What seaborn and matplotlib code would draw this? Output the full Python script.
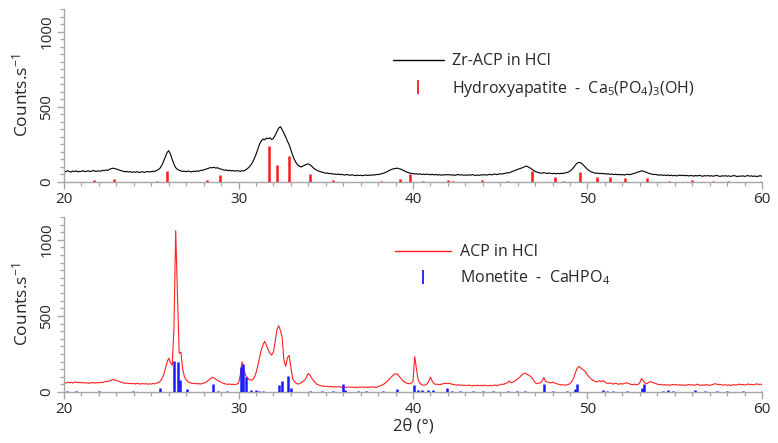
import numpy as np
import pandas as pd
import matplotlib
matplotlib.use("Agg")
import matplotlib.pyplot as plt
from matplotlib.lines import Line2D
from matplotlib.ticker import MultipleLocator
import seaborn as sns

# 2-theta sampling grid (degrees), 0.1 deg step
two_theta = np.round(np.arange(200, 601) / 10, 1)

# Zr-ACP in HCl, counts per second
zr_acp = [
    72, 68, 75, 70, 66, 73, 69, 74, 67, 71,
    70, 76, 68, 72, 74, 69, 73, 77, 70, 72,
    74, 71, 78, 75, 80, 77, 84, 88, 92, 89,
    86, 82, 78, 74, 71, 68, 70, 66, 69, 64,
    67, 65, 69, 63, 66, 68, 64, 67, 70, 66,
    69, 72, 70, 76, 82, 92, 110, 135, 165, 195,
    208, 185, 150, 118, 95, 84, 78, 74, 70, 72,
    68, 73, 70, 67, 72, 69, 74, 71, 76, 78,
    80, 84, 88, 92, 96, 94, 98, 92, 95, 88,
    86, 82, 78, 80, 75, 78, 73, 76, 72, 75,
    74, 70, 76, 73, 80, 88, 98, 112, 130, 155,
    182, 215, 250, 272, 285, 280, 292, 288, 294, 282,
    290, 310, 335, 358, 368, 348, 325, 300, 272, 248,
    215, 178, 150, 128, 112, 104, 100, 106, 112, 118,
    120, 114, 104, 92, 84, 78, 72, 68, 65, 62,
    58, 60, 55, 57, 52, 54, 50, 53, 49, 51,
    48, 46, 50, 47, 44, 48, 45, 42, 46, 43,
    45, 42, 44, 47, 43, 46, 44, 48, 46, 50,
    49, 52, 55, 58, 62, 68, 74, 80, 85, 88,
    90, 92, 88, 85, 80, 74, 68, 64, 60, 57,
    56, 53, 55, 51, 54, 50, 52, 49, 53, 50,
    48, 51, 47, 50, 46, 49, 45, 48, 46, 50,
    47, 49, 45, 48, 44, 47, 50, 46, 48, 45,
    47, 44, 48, 45, 49, 46, 43, 47, 44, 48,
    46, 49, 45, 48, 51, 47, 50, 53, 49, 52,
    55, 52, 56, 58, 62, 60, 66, 70, 75, 80,
    84, 88, 92, 96, 102, 106, 100, 94, 86, 78,
    70, 66, 62, 60, 58, 62, 59, 56, 60, 57,
    55, 58, 54, 57, 55, 58, 56, 60, 62, 66,
    72, 82, 96, 112, 125, 130, 128, 120, 108, 96,
    84, 75, 68, 64, 60, 57, 60, 55, 58, 54,
    56, 52, 55, 50, 53, 49, 52, 48, 51, 47,
    50, 46, 49, 52, 48, 51, 55, 58, 62, 66,
    70, 74, 72, 68, 63, 58, 55, 52, 49, 51,
    47, 45, 48, 44, 46, 43, 47, 42, 45, 41,
    44, 40, 43, 46, 42, 45, 41, 44, 40, 43,
    42, 39, 43, 40, 44, 41, 38, 42, 40, 43,
    39, 42, 38, 41, 44, 40, 37, 41, 39, 42,
    38, 41, 37, 40, 43, 39, 36, 40, 38, 41,
    37, 40, 43, 38, 41, 37, 40, 36, 39, 42,
    38,
]

# ACP in HCl, counts per second
acp = [
    62, 58, 65, 60, 64, 59, 63, 66, 61, 64,
    60, 63, 58, 62, 57, 61, 59, 63, 58, 62,
    60, 64, 62, 66, 70, 68, 74, 78, 82, 80,
    76, 72, 68, 64, 60, 57, 59, 55, 58, 54,
    56, 53, 57, 54, 52, 56, 53, 55, 51, 54,
    52, 56, 53, 58, 62, 70, 85, 110, 150, 195,
    222, 195, 175, 420, 1060, 640, 255, 262, 150, 100,
    80, 68, 62, 58, 55, 57, 53, 56, 52, 55,
    58, 62, 70, 80, 90, 96, 92, 84, 76, 70,
    64, 58, 55, 52, 50, 53, 49, 51, 48, 52,
    58, 110, 198, 150, 112, 95, 82, 78, 80, 95,
    125, 170, 225, 275, 310, 333, 305, 278, 255, 242,
    262, 330, 410, 436, 405, 360, 210, 168, 225, 240,
    165, 89, 70, 58, 52, 55, 62, 70, 78, 100,
    122, 110, 90, 75, 62, 50, 46, 42, 40, 38,
    36, 38, 34, 37, 33, 35, 32, 36, 34, 31,
    35, 33, 30, 34, 31, 33, 30, 32, 29, 33,
    31, 34, 30, 33, 29, 32, 35, 31, 34, 30,
    36, 40, 44, 50, 58, 68, 80, 92, 105, 115,
    120, 118, 105, 90, 76, 66, 60, 56, 54, 58,
    70, 233, 150, 76, 58, 48, 44, 46, 52, 70,
    98, 72, 55, 50, 52, 48, 50, 54, 56, 58,
    55, 58, 52, 50, 47, 45, 48, 44, 46, 43,
    45, 42, 46, 43, 40, 44, 41, 45, 42, 44,
    41, 45, 42, 40, 44, 41, 43, 46, 42, 45,
    48, 52, 50, 56, 60, 72, 62, 64, 70, 78,
    86, 95, 108, 118, 124, 120, 112, 106, 95, 80,
    62, 55, 58, 60, 72, 95, 70, 66, 62, 60,
    65, 60, 56, 52, 50, 46, 48, 44, 47, 50,
    55, 68, 90, 125, 155, 168, 160, 150, 142, 130,
    112, 98, 86, 78, 72, 66, 70, 74, 68, 76,
    65, 58, 56, 60, 55, 52, 58, 54, 50, 56,
    52, 56, 60, 58, 54, 50, 48, 52, 47, 50,
    62, 88, 75, 58, 55, 62, 68, 64, 60, 56,
    52, 48, 50, 46, 49, 45, 48, 44, 47, 50,
    46, 49, 45, 48, 44, 47, 43, 46, 50, 45,
    48, 44, 47, 52, 46, 43, 47, 45, 49, 46,
    44, 47, 50, 55, 52, 48, 51, 47, 45, 48,
    44, 47, 43, 46, 49, 45, 48, 52, 47, 50,
    46, 49, 53, 48, 51, 47, 50, 54, 49, 52,
    48,
]

# Hydroxyapatite reference pattern: positions (deg) and stick heights
hap_pos = [21.74, 22.87, 25.31, 25.88, 28.18, 28.92, 31.77, 32.22, 32.90,
           34.10, 35.43, 38.17, 39.26, 39.83, 40.59, 42.03, 42.30, 43.97,
           45.37, 46.80, 48.14, 48.65, 49.57, 50.56, 51.29, 52.17, 53.39,
           54.65, 55.97, 57.21, 58.07, 59.98]
hap_int = [13, 22, 8, 75, 13, 44, 238, 115, 171,
           53, 13, 8, 20, 55, 8, 16, 7, 11,
           8, 71, 33, 8, 64, 36, 31, 27, 27,
           7, 10, 8, 6, 7]

# Monetite reference pattern: positions (deg) and stick heights
mon_pos = [20.15, 20.69, 22.00, 23.97, 25.50, 26.32, 26.55, 26.67, 27.07,
           28.52, 28.84, 29.32, 30.16, 30.24, 30.43, 30.70, 31.00, 31.19,
           31.42, 32.34, 32.47, 32.85, 32.98, 34.10, 34.77, 35.43, 35.97,
           36.10, 36.86, 37.30, 38.30, 39.07, 40.06, 40.31, 40.50, 40.84,
           41.13, 41.93, 42.22, 42.69, 43.46, 44.03, 44.60, 45.46, 45.94,
           46.42, 47.51, 48.04, 48.81, 49.28, 49.38, 50.87, 51.10, 51.48,
           52.25, 53.10, 53.24, 54.35, 54.63, 54.92, 56.16, 56.73, 57.40,
           57.97, 58.93, 59.98]
mon_int = [6, 8, 8, 5, 26, 203, 196, 76, 22,
           52, 8, 5, 163, 181, 98, 10, 15, 8,
           5, 44, 70, 102, 26, 7, 5, 6, 52,
           15, 6, 5, 5, 22, 44, 15, 13, 10,
           15, 26, 8, 8, 6, 6, 5, 8, 8,
           5, 50, 6, 6, 17, 50, 10, 8, 6,
           7, 28, 55, 8, 10, 8, 10, 6, 6,
           8, 6, 8]

x_ticks = [20, 30, 40, 50, 60]
y_ticks = [0, 500, 1000]

sns.set_theme(style="ticks")
plt.rcParams["font.family"] = ["Open Sans", "DejaVu Sans"]
plt.rcParams["mathtext.fontset"] = "custom"
plt.rcParams["mathtext.rm"] = "Open Sans"
plt.rcParams["mathtext.it"] = "Open Sans:italic"

AXIS_GREY = "#a6a6a6"
TEXT = "#262626"

fig = plt.figure(figsize=(7.78, 4.43), dpi=100)
ax_top = fig.add_axes([0.0823, 0.5892, 0.8971, 0.3905])
ax_bot = fig.add_axes([0.0823, 0.1151, 0.8971, 0.3951])

panels = [
    (ax_top, zr_acp, "black", "Zr-ACP in HCl",
     hap_pos, hap_int, "#ff1a1a", r"Hydroxyapatite  -  Ca$_5$(PO$_4$)$_3$(OH)",
     (0.471, 0.745), 3.2, 0.5, 0.62),
    (ax_bot, acp, "#ff2020", "ACP in HCl",
     mon_pos, mon_int, "#1a1aff", r"Monetite  -  CaHPO$_4$",
     (0.474, 0.845), 3.5, 0.6, 0.5),
]

for (ax, counts, lcolor, llabel, spos, sint, scolor, slabel,
     anchor, hlen, hpad, lspace) in panels:
    df = pd.DataFrame({"two_theta": two_theta, "counts": counts})
    sns.lineplot(data=df, x="two_theta", y="counts", ax=ax,
                 color=lcolor, linewidth=0.8, zorder=2)
    ax.vlines(spos, 0, sint, colors=scolor, linewidth=1.8, zorder=3)

    ax.set_xlim(20, 60)
    ax.set_ylim(0, 1150)
    ax.set_xticks(x_ticks)
    ax.set_yticks(y_ticks)
    ax.xaxis.set_minor_locator(MultipleLocator(1))
    ax.yaxis.set_minor_locator(MultipleLocator(50))
    for side in ("top", "right"):
        ax.spines[side].set_visible(False)
    for side in ("left", "bottom"):
        ax.spines[side].set_color(AXIS_GREY)
        ax.spines[side].set_linewidth(1.0)
    ax.tick_params(axis="both", which="major", length=5, width=1.0,
                   color=AXIS_GREY, labelsize=11, labelcolor=TEXT, pad=2)
    ax.tick_params(axis="both", which="minor", length=3, width=0.9,
                   color=AXIS_GREY)
    for lab in ax.get_yticklabels():
        lab.set_rotation(90)
        lab.set_va("center")
    ax.set_ylabel("Counts.s$^{-1}$", fontsize=12.5, color=TEXT, labelpad=6)
    ax.set_xlabel("")

    handles = [
        Line2D([], [], color=lcolor, linewidth=1.0),
        Line2D([], [], color=scolor, marker="|", linestyle="None",
               markersize=10, markeredgewidth=1.3),
    ]
    leg = ax.legend(handles, [llabel, slabel], loc="upper left",
                    bbox_to_anchor=anchor, frameon=False, fontsize=11.5,
                    handlelength=hlen, handletextpad=hpad,
                    labelspacing=lspace, borderaxespad=0, borderpad=0)
    for t in leg.get_texts():
        t.set_color(TEXT)

ax_bot.set_xlabel("2θ (°)", fontsize=12, color=TEXT, labelpad=1)

fig.savefig("out.png", dpi=100)
